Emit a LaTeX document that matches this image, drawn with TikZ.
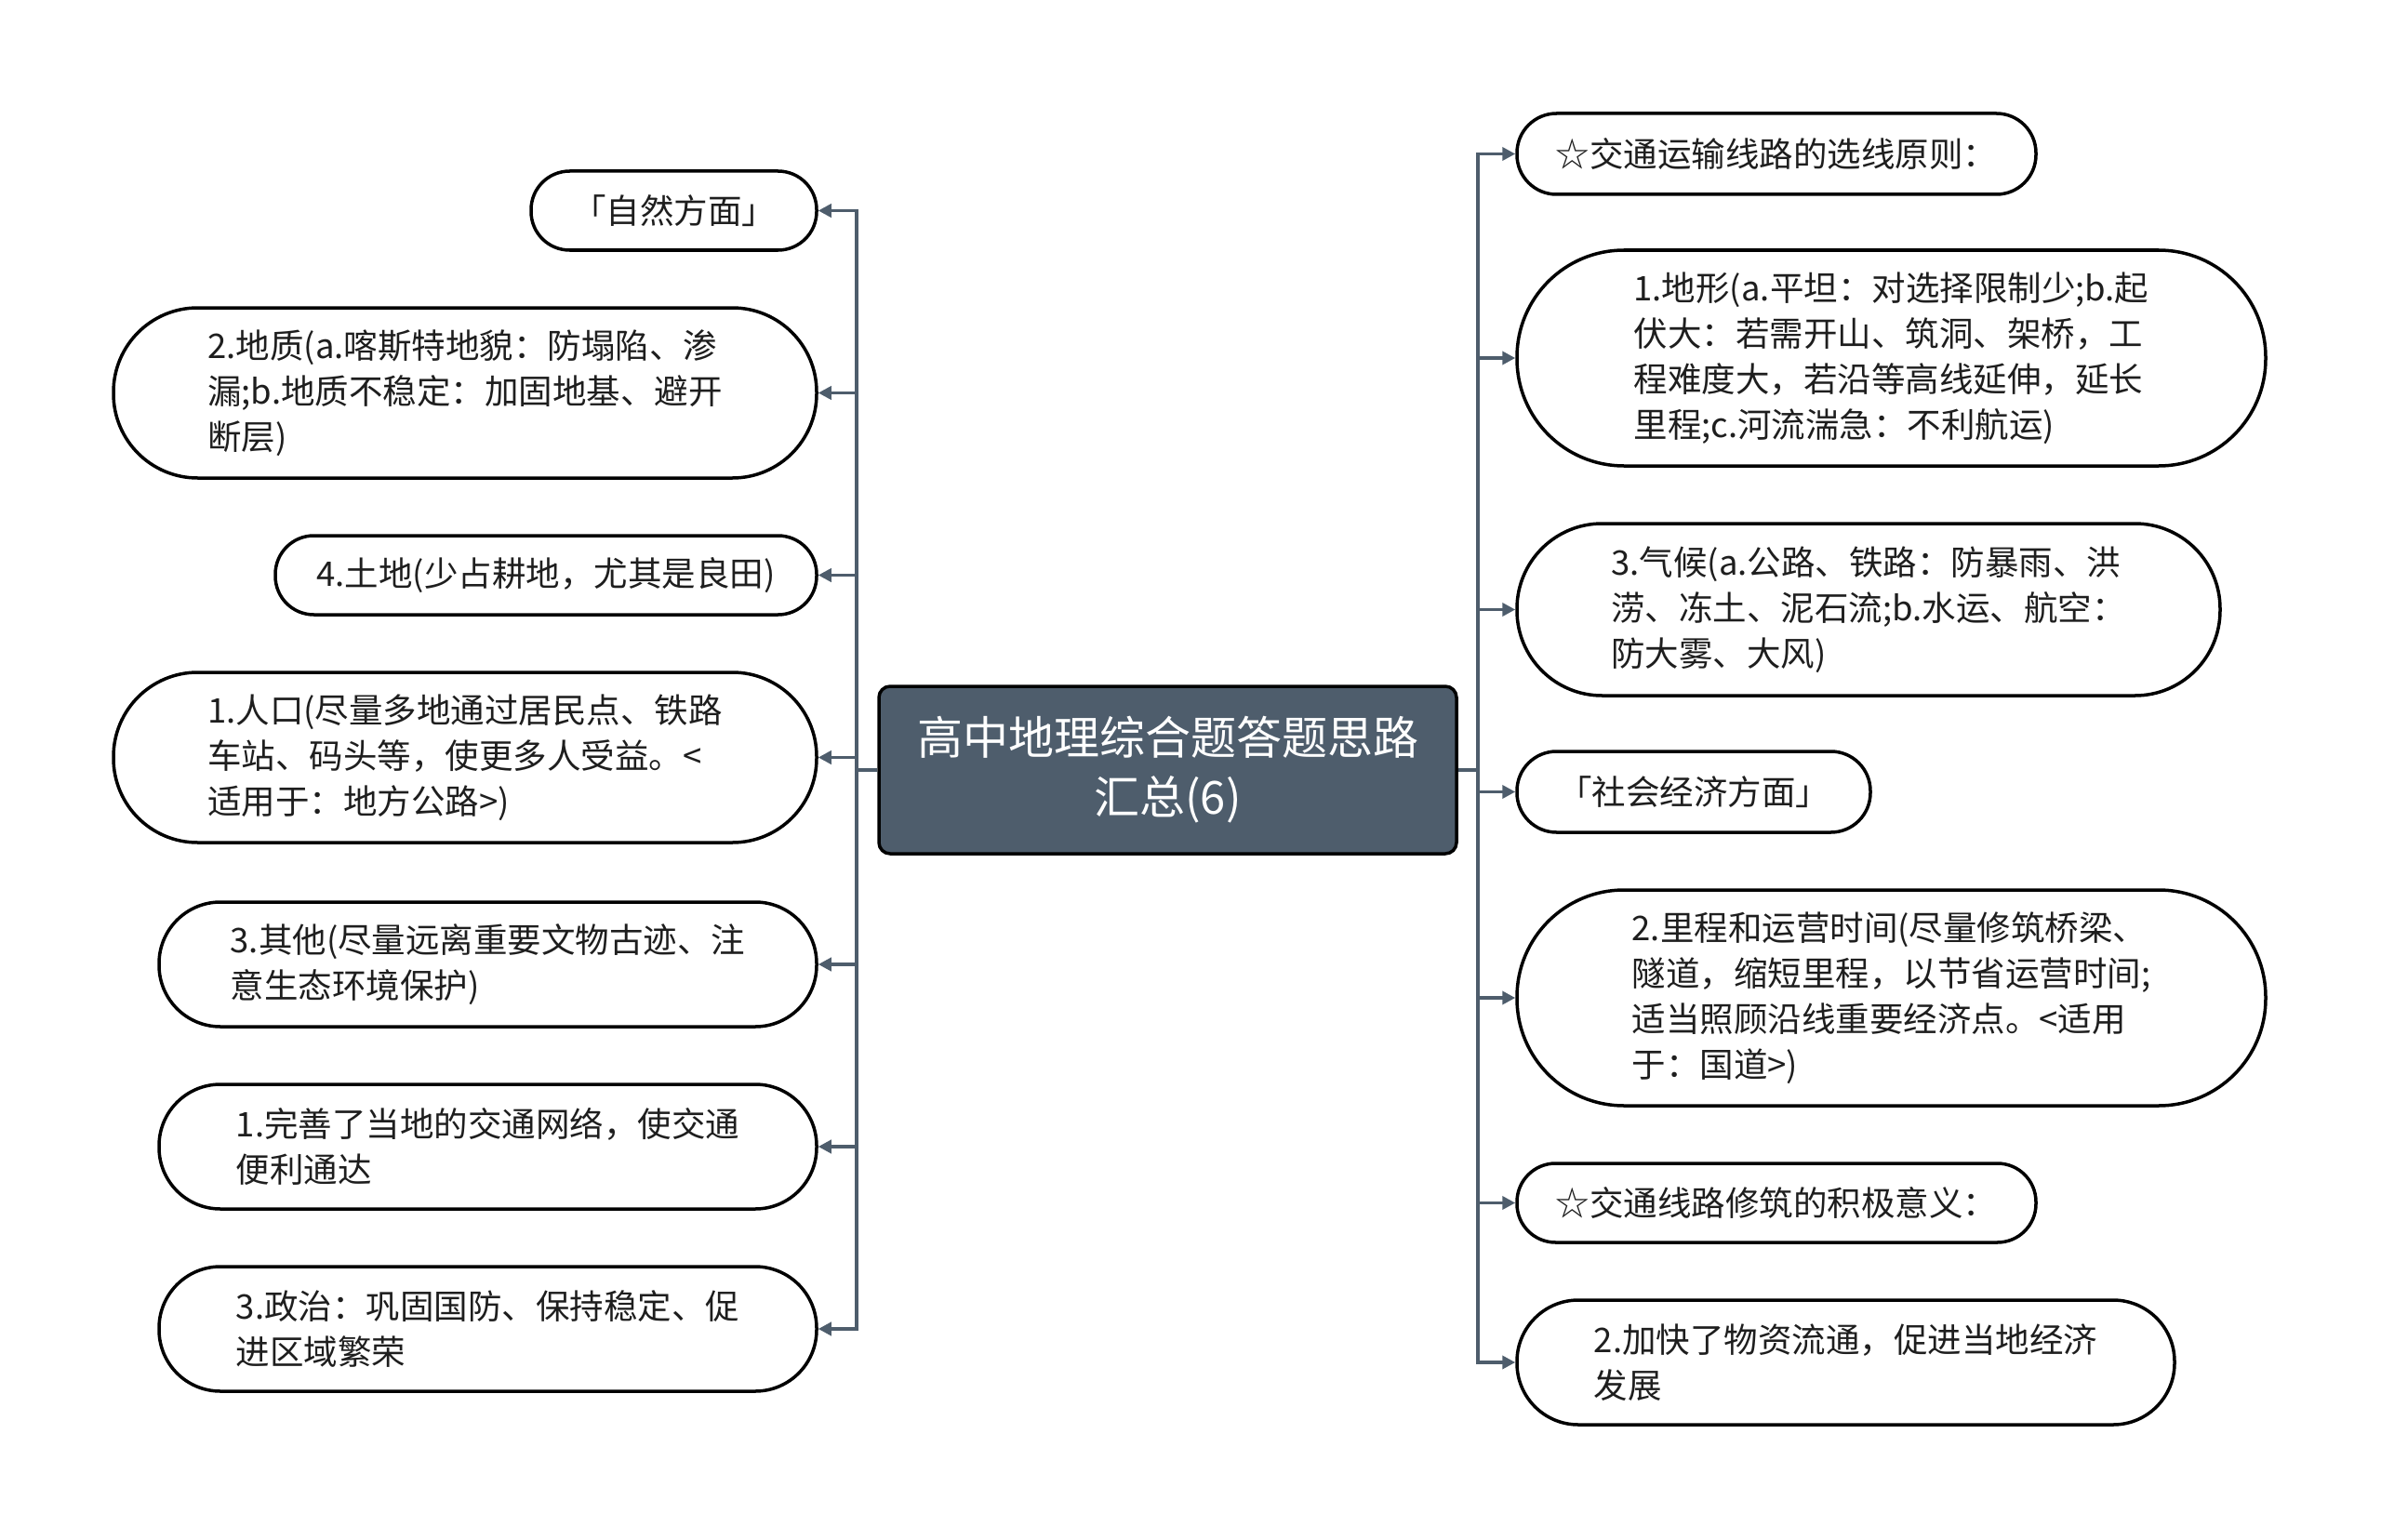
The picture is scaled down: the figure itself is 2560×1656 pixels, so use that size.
\documentclass[tikz,border=0pt]{standalone}
\usepackage{fontspec}
\setmainfont{Noto Sans CJK SC}
\usetikzlibrary{arrows.meta}
\definecolor{slate}{HTML}{4E5D6C}
\definecolor{txt}{HTML}{1E1E1E}
\newcommand\leafnode[6]{%
  \pgfmathsetmacro\lfX{(#2+#4)/2}%
  \pgfmathsetmacro\lfY{(#3+#5)/2}%
  \pgfmathsetmacro\lfW{#4-#2}%
  \pgfmathsetmacro\lfH{#5-#3}%
  \pgfmathsetmacro\lfR{\lfH/2-1}%
  \node[leaf, minimum width=\lfW pt, minimum height=\lfH pt, rounded corners=\lfR pt] (#1) at (\lfX,\lfY) {#6};%
}
\begin{document}
\begin{tikzpicture}[x=1pt,y=-1pt,
  leaf/.style={draw=black, line width=3.5pt, fill=white, align=left, inner sep=0pt,
     text=txt, font=\fontsize{36.5}{49}\selectfont},
  rootbox/.style={draw=black, line width=3.5pt, fill=slate, rounded corners=12pt,
     align=center, text=white, inner sep=0pt, font=\fontsize{49}{64}\selectfont},
  conn/.style={draw=slate, line width=3.5pt, -{Triangle[length=14pt,width=14pt]}}]
\useasboundingbox (0,0) rectangle (2560,1656);
\fill[white] (0,0) rectangle (2560,1656);

\node[rootbox, minimum width=621pt, minimum height=180pt] (root) at (1255.5,828) {高中地理综合题答题思路\\汇总(6)};

% left children
\leafnode{l1}{571}{184}{878}{269}{「自然方面」}
\leafnode{l2}{122}{331}{878}{514}{2.地质(a.喀斯特地貌：防塌陷、渗\\漏;b.地质不稳定：加固地基、避开\\断层)}
\leafnode{l3}{296}{576}{878}{661}{4.土地(少占耕地，尤其是良田)}
\leafnode{l4}{122}{723}{878}{906}{1.人口(尽量多地通过居民点、铁路\\车站、码头等，使更多人受益。<\\适用于：地方公路>)}
\leafnode{l5}{171}{970}{878}{1104}{3.其他(尽量远离重要文物古迹、注\\意生态环境保护)}
\leafnode{l6}{171}{1166}{878}{1300}{1.完善了当地的交通网络，使交通\\便利通达}
\leafnode{l7}{171}{1362}{878}{1496}{3.政治：巩固国防、保持稳定、促\\进区域繁荣}

% right children
\leafnode{r1}{1631}{122}{2189}{209}{☆交通运输线路的选线原则：}
\leafnode{r2}{1631}{269}{2436}{501}{1.地形(a.平坦：对选择限制少;b.起\\伏大：若需开山、筑洞、架桥，工\\程难度大，若沿等高线延伸，延长\\里程;c.河流湍急：不利航运)}
\leafnode{r3}{1631}{563}{2387}{748}{3.气候(a.公路、铁路：防暴雨、洪\\涝、冻土、泥石流;b.水运、航空：\\防大雾、大风)}
\leafnode{r4}{1631}{808}{2011}{895}{「社会经济方面」}
\leafnode{r5}{1631}{957}{2436}{1189}{2.里程和运营时间(尽量修筑桥梁、\\隧道，缩短里程，以节省运营时间;\\适当照顾沿线重要经济点。<适用\\于：国道>)}
\leafnode{r6}{1631}{1251}{2189}{1336}{☆交通线路修筑的积极意义：}
\leafnode{r7}{1631}{1398}{2338}{1532}{2.加快了物资流通，促进当地经济\\发展}

\coordinate (lbus) at (921,828);
\coordinate (rbus) at (1589,828);

\foreach \c in {l1,l2,l3,l4,l5,l6,l7}
  \draw[conn] (root.west) -- (lbus) |- (\c.east);
\foreach \c in {r1,r2,r3,r4,r5,r6,r7}
  \draw[conn] (root.east) -- (rbus) |- (\c.west);
\end{tikzpicture}
\end{document}
